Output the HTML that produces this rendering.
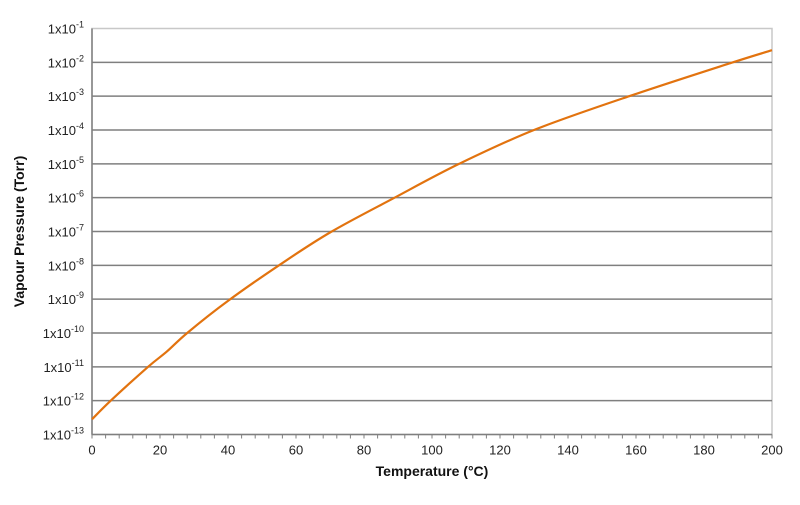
<!DOCTYPE html>
<html><head><meta charset="utf-8"><style>
body{margin:0;background:#fff;font-family:"Liberation Sans",Arial,sans-serif}
svg text{font-family:"Liberation Sans",Arial,sans-serif}
</style></head><body>
<svg id="chart" width="800" height="500" xmlns="http://www.w3.org/2000/svg"></svg>
<script>
const temps=[0,5.5,16.5,22,28,40,55,70,89,108,130,158,188.5,200];
const logP=[-12.55,-12,-11,-10.55,-10,-9.05,-8,-7.03,-6,-5,-4,-3,-2,-1.64];
const xTicks=[0,20,40,60,80,100,120,140,160,180,200];
const yExps=[-13,-12,-11,-10,-9,-8,-7,-6,-5,-4,-3,-2,-1];
const NS="http://www.w3.org/2000/svg";
const svg=document.getElementById('chart');
const L=92,R=772,T=28.5,B=434.5;
const xs=v=>L+(v-0)/200*(R-L);
const ys=v=>B-(v+13)/12*(B-T);
function mk(tag,attrs){const e=document.createElementNS(NS,tag);for(const k in attrs)e.setAttribute(k,attrs[k]);svg.appendChild(e);return e;}
let f=mk('rect',{x:L,y:T,width:R-L,height:B-T,fill:'none',stroke:'#c8c8c8','stroke-width':1.5});


yExps.forEach(e=>{
  const y=ys(e);
  if(e>-13&&e<-1){const g=mk('line',{x1:L,x2:R,y1:y,y2:y,stroke:'#7f7f7f','stroke-width':1.5});
  
  }
  const t=mk('text',{x:L-8,y:y+5,'text-anchor':'end','font-size':13,fill:'#222'});
  
  
  t.textContent='1x10';
  const s=document.createElementNS(NS,'tspan');s.setAttribute('dy',-6);s.setAttribute('font-size',9);s.textContent=String(e);t.appendChild(s);
});
let ax=mk('line',{x1:L,x2:L,y1:T,y2:B,stroke:'#7f7f7f','stroke-width':1.5});


let bx=mk('line',{x1:L,x2:R,y1:B,y2:B,stroke:'#7f7f7f','stroke-width':1.5});


for(let v=0;v<=200;v+=4){const tk=mk('line',{x1:xs(v),x2:xs(v),y1:B,y2:B+4,stroke:'#7f7f7f','stroke-width':1});

}
xTicks.forEach(v=>{const t=mk('text',{x:xs(v),y:B+20,'text-anchor':'middle','font-size':13,fill:'#222'});


t.textContent=v;});
let xt=mk('text',{x:(L+R)/2,y:476,'text-anchor':'middle','font-size':14,'font-weight':'bold',fill:'#111'});


xt.textContent='Temperature (°C)';
let yt=mk('text',{x:0,y:0,'text-anchor':'middle','font-size':14,'font-weight':'bold',fill:'#111',transform:`translate(24,${(T+B)/2}) rotate(-90)`});


yt.textContent='Vapour Pressure (Torr)';
// smooth curve (Catmull-Rom -> Bezier)
const pts=temps.map((t,i)=>[xs(t),ys(logP[i])]);
let d='M'+pts[0][0].toFixed(1)+','+pts[0][1].toFixed(1);
for(let i=0;i<pts.length-1;i++){
  const p0=pts[Math.max(0,i-1)],p1=pts[i],p2=pts[i+1],p3=pts[Math.min(pts.length-1,i+2)];
  const c1=[p1[0]+(p2[0]-p0[0])/6,p1[1]+(p2[1]-p0[1])/6];
  const c2=[p2[0]-(p3[0]-p1[0])/6,p2[1]-(p3[1]-p1[1])/6];
  d+=` C${c1[0].toFixed(1)},${c1[1].toFixed(1)} ${c2[0].toFixed(1)},${c2[1].toFixed(1)} ${p2[0].toFixed(1)},${p2[1].toFixed(1)}`;
}
let p=mk('path',{d:d,fill:'none',stroke:'#e2730f','stroke-width':2.2,'stroke-linejoin':'round'});


</script>
</body></html>
